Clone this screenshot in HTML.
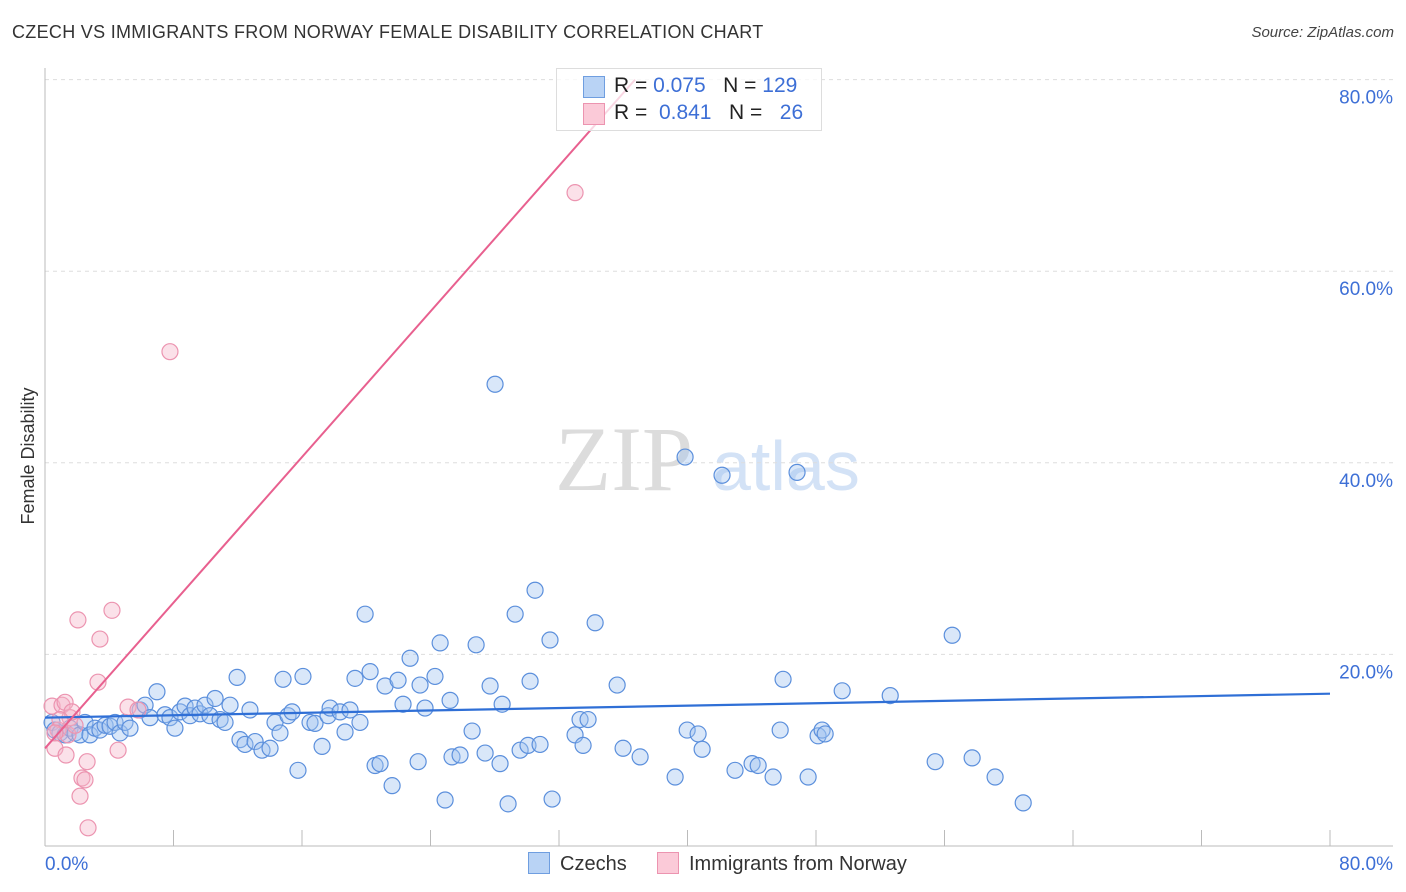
<!DOCTYPE html>
<html><head><meta charset="utf-8"><style>
body{margin:0;background:#fff;font-family:"Liberation Sans",sans-serif;}
#wrap{position:relative;width:1406px;height:892px;overflow:hidden;}
.t{position:absolute;white-space:nowrap;}
</style></head><body>
<div id="wrap">
<div class="t" style="left:12px;top:22px;font-size:18px;letter-spacing:0.3px;color:#333;">CZECH VS IMMIGRANTS FROM NORWAY FEMALE DISABILITY CORRELATION CHART</div>
<div class="t" style="right:12px;top:24px;font-size:15px;color:#444;font-style:italic;">Source: ZipAtlas.com</div>
<svg id="svg" width="1406" height="892" style="position:absolute;left:0;top:0"></svg>
</div>
<script>
const blueX=[0.44,0.62,0.93,1.25,1.56,1.87,2.18,2.49,2.80,3.11,3.42,3.74,4.05,4.36,4.67,4.98,5.29,5.92,6.23,6.54,6.97,7.47,7.78,8.09,8.41,8.72,9.03,9.34,9.65,9.96,10.27,10.59,10.90,11.21,11.52,11.96,12.14,12.45,12.76,13.08,13.51,14.01,14.32,14.63,14.82,15.13,15.38,15.75,16.06,16.50,16.81,17.25,17.62,17.75,18.37,18.68,18.99,19.30,19.61,19.93,20.24,20.55,20.86,21.17,21.61,21.98,22.29,22.73,23.23,23.35,23.66,24.28,24.60,24.91,25.22,25.34,25.84,26.59,26.84,27.40,27.71,28.02,28.33,28.46,28.83,29.27,29.58,30.07,30.20,30.51,30.82,31.44,31.57,33.00,33.31,33.50,33.81,34.25,35.62,35.99,37.05,39.23,39.85,39.98,40.66,40.91,42.15,42.96,44.02,44.40,45.33,45.77,45.95,46.82,47.51,48.13,48.38,48.57,49.63,52.62,55.42,56.48,57.72,59.15,60.90];
const blueY=[12.9,12.1,11.8,11.6,12.3,11.8,11.6,12.9,11.6,12.3,12.1,12.6,12.5,12.9,11.8,12.9,12.3,14.2,14.7,13.4,16.1,13.7,13.4,12.3,14.0,14.6,13.6,14.4,13.8,14.7,13.6,15.4,13.2,12.9,14.7,17.6,11.1,10.6,14.2,10.9,10.0,10.2,12.9,11.8,17.4,13.6,14.0,7.9,17.7,12.9,12.8,10.4,13.6,14.4,14.0,11.9,14.2,17.5,12.9,24.2,18.2,8.4,8.6,16.7,6.3,17.3,14.8,19.6,8.8,16.8,14.4,17.7,21.2,4.8,15.2,9.3,9.5,12.0,21.0,9.7,16.7,48.2,8.6,14.8,4.4,24.2,10.0,10.5,17.2,26.7,10.6,21.5,4.9,11.6,13.2,10.5,13.2,23.3,16.8,10.2,9.3,7.2,40.6,12.1,11.7,10.1,38.7,7.9,8.6,8.4,7.2,12.1,17.4,39.0,7.2,11.5,12.1,11.7,16.2,15.7,8.8,22.0,9.2,7.2,4.5];
const pinkX=[0.44,0.62,0.81,1.06,1.25,1.43,1.56,1.87,2.05,2.30,2.49,2.62,2.18,2.68,3.30,3.42,4.17,4.55,5.17,5.79,7.78,33.00,1.68,0.93,1.31,0.62];
const pinkY=[14.6,10.2,12.1,14.7,15.0,11.6,13.4,12.6,23.6,7.1,6.9,8.8,5.2,1.9,17.1,21.6,24.6,10.0,14.5,14.2,51.6,68.2,14.0,13.2,9.5,11.8];
const blueLine=[13.4,15.9];
const pinkLine=[10.2,1.90];
const yTicks=[20,40,60,80];
const yTickLabels=["20.0%","40.0%","60.0%","80.0%"];
const xTicks=[0,8,16,24,32,40,48,56,64,72,80];

const svg=document.getElementById('svg');
const NS='http://www.w3.org/2000/svg';
const X=v=>45+v*16.0625;
const Y=v=>846-v*9.58;
function el(tag,attrs,parent){const e=document.createElementNS(NS,tag);for(const k in attrs)e.setAttribute(k,attrs[k]);(parent||svg).appendChild(e);return e;}
let w1=el('text',{x:555,y:490,'font-size':92,'font-family':'Liberation Serif, serif',fill:'#dcdcdc'});w1.textContent='ZIP';


let w2=el('text',{x:712,y:490,'font-size':70,'font-family':'Liberation Sans, sans-serif',fill:'#d3e2f6'});w2.textContent='atlas';


yTicks.forEach((t,i)=>{
 let g=el('line',{x1:45,x2:1393,y1:Y(t),y2:Y(t),stroke:'#ddd','stroke-dasharray':'4,4'});
 
 
 let tx=el('text',{x:1393,y:Y(t)+24,'text-anchor':'end','font-size':19,fill:'#3d6fd6'});tx.textContent=yTickLabels[i];
 
 
});
let ax=el('line',{x1:45,x2:1393,y1:846,y2:846,stroke:'#bbb'});


let ay=el('line',{x1:45,x2:45,y1:68,y2:846,stroke:'#bbb'});


xTicks.forEach(t=>{let l=el('line',{x1:X(t),x2:X(t),y1:830,y2:846,stroke:'#bbb'});
 
 });
let xl0=el('text',{x:45,y:870,'font-size':19,fill:'#3d6fd6'});xl0.textContent='0.0%';


let xl1=el('text',{x:1393,y:870,'text-anchor':'end','font-size':19,fill:'#3d6fd6'});xl1.textContent='80.0%';


let yt=el('text',{x:34,y:456,'font-size':18,fill:'#333','text-anchor':'middle',transform:'rotate(-90 34 456)'});yt.textContent='Female Disability';


blueX.forEach((v,i)=>{let c=el('circle',{cx:X(v),cy:Y(blueY[i]),r:8,fill:'rgba(160,195,240,0.4)',stroke:'#5b8fdc','stroke-width':1.2});
 
 });
pinkX.forEach((v,i)=>{let c=el('circle',{cx:X(v),cy:Y(pinkY[i]),r:8,fill:'rgba(245,180,200,0.4)',stroke:'#ec94b0','stroke-width':1.2});
 
 });
let bl=el('line',{x1:X(0),y1:Y(blueLine[0]),x2:X(80),y2:Y(blueLine[1]),stroke:'#2f6fd6','stroke-width':2.2});


const pxEnd=(80-pinkLine[0])/pinkLine[1];
let pl=el('line',{x1:X(0),y1:Y(pinkLine[0]),x2:X(pxEnd),y2:Y(80),stroke:'#e8608f','stroke-width':2});


</script>
<div class="t" style="left:556px;top:68px;width:264px;height:61px;border:1px solid #ddd;background:rgba(255,255,255,0.75);font-size:21px;">
 <div style="position:absolute;left:26px;top:7px;width:20px;height:20px;background:#b9d3f5;border:1px solid #6f9ee0;"></div>
 <div style="position:absolute;left:57px;top:5px;color:#222;">R = <span style="color:#3d6fd6">0.075</span>&nbsp;&nbsp;&nbsp;N = <span style="color:#3d6fd6">129</span></div>
 <div style="position:absolute;left:26px;top:34px;width:20px;height:20px;background:#fbcad8;border:1px solid #ec94b0;"></div>
 <div style="position:absolute;left:57px;top:32px;color:#222;">R = &nbsp;<span style="color:#3d6fd6">0.841</span>&nbsp;&nbsp;&nbsp;N = &nbsp;&nbsp;<span style="color:#3d6fd6">26</span></div>
</div>
<div class="t" style="left:528px;top:852px;font-size:20px;color:#333;"><span style="display:inline-block;width:20px;height:20px;background:#b9d3f5;border:1px solid #6f9ee0;vertical-align:-4px;margin-right:10px;"></span>Czechs</div>
<div class="t" style="left:657px;top:852px;font-size:20px;color:#333;"><span style="display:inline-block;width:20px;height:20px;background:#fbcad8;border:1px solid #ec94b0;vertical-align:-4px;margin-right:10px;"></span>Immigrants from Norway</div>
</body></html>
